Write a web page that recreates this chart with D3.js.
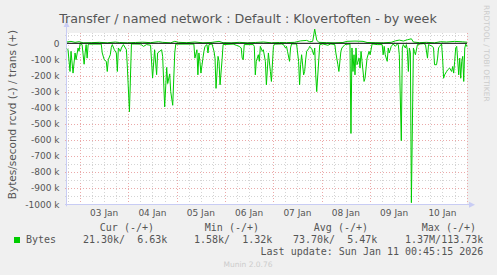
<!DOCTYPE html>
<html>
<head>
<meta charset="utf-8">
<script src="https://cdn.jsdelivr.net/npm/d3@7"></script>
<style>
  body { margin: 0; background: #f0f0f0; }
  text { font-family: "DejaVu Sans", sans-serif; }
  .mono { font-family: "DejaVu Sans Mono", monospace; white-space: pre; }
</style>
</head>
<body>
<svg id="chart" width="497" height="275"></svg>
<script>
// hours after the left edge of the graph, value in k bytes/s (rcvd is drawn negative)
var rcvd = [
  [0,-33],[0.5,-40],[1.5,-175],[2,-50],[3,-185],[4,-60],[4.5,-102],[5.5,-29],[6,-50],[6.5,-2],
  [7.5,-8],[8.5,-130],[9,-60],[9.5,-8],[10,-92],[10.5,-8],[11,-5],[17,-5],[17.5,-60],[18.5,-102],
  [19.5,-112],[20,-175],[20.5,-102],[21.5,-71],[22,-25],[22.5,-8],[23.5,-40],[24.5,-60],[25,-175],
  [25.5,-29],[26.5,-50],[27,-29],[28,-8],[29.5,-40],[30,-154],[31,-425],[32,-4],[36.5,-5],[38,-19],
  [39.5,-8],[41.5,-12],[42.5,-215],[43.5,-40],[44.5,-195],[45,-60],[46,-50],[47,-40],[47.5,-83],
  [48.5,-395],[49.5,-150],[50,-250],[51,-190],[51.5,-300],[52.5,-385],[53.5,-60],[54,-5],[63,-5],
  [63.5,-92],[64.5,-40],[65,-196],[65.5,-60],[66,-112],[66.5,-185],[67.5,-92],[68,-50],[68.5,-19],
  [69.5,-8],[70,-60],[70.5,-8],[72,-4],[73,-50],[73.5,-92],[74,-280],[75,-81],[75.5,-112],[76,-258],
  [77,-102],[77.5,-8],[82.5,-5],[84,-12],[85.5,-19],[86.5,-29],[87,-92],[87.5,-102],[88,-8],[92.5,-8],
  [93,-19],[93.5,-196],[94,-112],[95,-71],[95.5,-112],[96,-19],[97,-50],[97.5,-40],[98.5,-112],
  [99,-258],[100,-60],[101,-175],[101.5,-237],[102.5,-19],[103,-5],[106.5,-4],[107.5,-8],[108.5,-29],
  [109,-19],[109.5,-50],[110.5,-112],[111,-29],[111.5,-4],[114,-4],[115,-112],[115.5,-258],[116,-133],
  [116.5,-71],[117.5,-196],[118,-175],[118.5,-102],[119,-50],[120,-33],[120.5,-19],[121.5,-33],
  [122.5,-71],[123,-29],[123.5,-196],[124,-300],[125.5,-8],[127,-4],[129.5,-12],[131,-4],[133,-8],
  [133.5,-60],[134.5,-133],[135,-175],[136,-50],[136.5,-29],[138,-8],[140.5,-4],[141,-560],[141.5,-29],
  [142,-175],[142.5,-71],[143,-196],[143.5,-29],[144,-133],[145,-92],[145.5,-154],[146,-50],[146.5,-112],
  [147.5,-237],[148,-217],[149,-92],[150,-50],[150.5,-71],[151.5,-4],[154,-8],[156.5,-8],[157,-71],
  [157.5,-19],[158,-71],[159,-112],[159.5,-29],[160,-60],[161,-19],[162,-4],[163,-19],[164,-4],
  [164.5,-8],[165,-71],[166,-605],[166.5,-29],[167,-8],[168,-29],[168.5,-8],[169,-40],[169.5,-175],
  [170,-29],[170.5,-60],[171,-990],[172,-29],[172.5,-50],[173,-71],[174,-8],[175.5,-4],[177,-2],
  [178,-8],[179,-92],[179.5,-8],[181.5,-19],[182,-29],[182.5,-133],[183.5,-133],[184,-92],[184.5,-29],
  [185,-19],[186,-4],[186.5,-92],[187,-217],[187.5,-196],[188.5,-175],[189,-165],[190,-154],[191,-175],
  [191.5,-144],[192,-185],[192.5,-112],[193,-29],[193.5,-19],[194.5,-196],[195,-92],[195.5,-217],
  [196,-112],[196.5,-81],[197,-237],[197.5,-29],[198,-5],[198.6,-21]
];
var trans = [
  [0,8],[2,12],[4,6],[6,10],[8,3],[12,4],[16,6],[20,3],[24,8],[26,5],[30,3],[34,5],[37.5,7],[41.5,4],
  [45.5,10],[47.5,6],[51.5,3],[53.5,12],[55.5,6],[59.5,4],[63.5,8],[67.5,3],[71.5,5],[75.5,12],[77.5,4],
  [81.5,3],[85.5,6],[89.5,3],[93.5,5],[97.5,8],[101.5,3],[105.5,5],[109,4],[113,6],[116,15],[119,18],
  [120.5,10],[122,12],[123,88],[124,20],[125,6],[129,4],[133,3],[137,5],[139,12],[143,14],[147,12],
  [149,5],[153,4],[157,3],[161,6],[163,15],[165,20],[167,14],[169,22],[171,28],[172,8],[175,4],
  [178.5,6],[182.5,3],[185.5,10],[188.5,8],[192.5,12],[196.5,9],[198.6,7]
];
var yTicks = [0, -100, -200, -300, -400, -500, -600, -700, -800, -900, -1000];
var legendHead = ["Cur (-/+)", "Min (-/+)", "Avg (-/+)", "Max (-/+)"];
var legendVals = ["21.30k/  6.63k", "1.58k/  1.32k", "73.70k/  5.47k", "1.37M/113.73k"];
var seriesName = "Bytes";
var lastUpdate = "Last update: Sun Jan 11 00:45:15 2026";

var t0 = new Date(Date.UTC(2026, 0, 2, 17, 33));
var t1 = new Date(Date.UTC(2026, 0, 11, 0, 10));
function hoursToDate(h) { return new Date(t0.getTime() + h * 3600e3); }

var svg = d3.select("#chart");
var pL = 67, pR = 467, pT = 33, pB = 204.3;

var x = d3.scaleUtc().domain([t0, t1]).range([pL, pR]);
var y = d3.scaleLinear().domain([-1000, 64]).range([pB, pT]);

svg.append("rect").attr("width", 497).attr("height", 275).attr("fill", "#f0f0f0");
svg.append("rect").attr("x", pL).attr("y", pT).attr("width", pR - pL)
   .attr("height", pB - pT).attr("fill", "#ffffff");

// grid: minor every 6h / 50k, major at midnight / 100k
var minorT = x.ticks(d3.utcHour.every(6)).filter(function (d) { return d.getUTCHours() != 0; });
var majorT = x.ticks(d3.utcDay.every(1));
svg.selectAll(".vmin").data(minorT).enter().append("line")
   .attr("x1", function (d) { return Math.round(x(d)) + 0.5; })
   .attr("x2", function (d) { return Math.round(x(d)) + 0.5; })
   .attr("y1", pT).attr("y2", pB + 2)
   .attr("stroke", "#d4d4d4").attr("stroke-dasharray", "1,2");
svg.selectAll(".vmaj").data(majorT).enter().append("line")
   .attr("x1", function (d) { return Math.round(x(d)) + 0.5; })
   .attr("x2", function (d) { return Math.round(x(d)) + 0.5; })
   .attr("y1", pT).attr("y2", pB + 2)
   .attr("stroke", "#eba9a9").attr("stroke-dasharray", "1,2");

var hMinor = d3.range(-950, 64, 100);
svg.selectAll(".hmin").data(hMinor).enter().append("line")
   .attr("x1", pL - 2).attr("x2", pR)
   .attr("y1", function (d) { return Math.round(y(d)) + 0.5; })
   .attr("y2", function (d) { return Math.round(y(d)) + 0.5; })
   .attr("stroke", "#d4d4d4").attr("stroke-dasharray", "1,2");
svg.selectAll(".hmaj").data(yTicks.slice(1)).enter().append("line")
   .attr("x1", pL - 2).attr("x2", pR)
   .attr("y1", function (d) { return Math.round(y(d)) + 0.5; })
   .attr("y2", function (d) { return Math.round(y(d)) + 0.5; })
   .attr("stroke", "#eba9a9").attr("stroke-dasharray", "1,2");

// axes with little arrows like rrdtool
var axisCol = "#c8ccf4";
svg.append("line").attr("x1", pL - 0.5).attr("x2", pL - 0.5).attr("y1", pB + 2).attr("y2", 26)
   .attr("stroke", axisCol);
svg.append("path").attr("d", "M" + (pL - 3.5) + ",27 L" + (pL - 0.5) + ",21 L" + (pL + 2.5) + ",27 Z")
   .attr("fill", axisCol);
svg.append("line").attr("x1", pL - 2).attr("x2", pR + 3).attr("y1", Math.round(pB) + 0.5)
   .attr("y2", Math.round(pB) + 0.5).attr("stroke", axisCol);
svg.append("path").attr("d", "M" + (pR + 2) + "," + (pB - 2.5) + " L" + (pR + 8) + "," + (pB + 0.5) +
   " L" + (pR + 2) + "," + (pB + 3.5) + " Z").attr("fill", axisCol);

// data lines
var line = d3.line()
   .x(function (d) { return x(hoursToDate(d[0])); })
   .y(function (d) { return y(d[1]); });
svg.append("path").datum(rcvd).attr("d", line).attr("fill", "none")
   .attr("stroke", "#00cc00").attr("stroke-width", 1);
svg.append("path").datum(trans).attr("d", line).attr("fill", "none")
   .attr("stroke", "#00cc00").attr("stroke-width", 1);

svg.append("line").attr("x1", pL).attr("x2", pR)
   .attr("y1", y(0)).attr("y2", y(0)).attr("stroke", "#000").attr("stroke-width", 1);

// tick labels
var txt = "#555555";
svg.selectAll(".yl").data(yTicks).enter().append("text")
   .attr("x", 59.5).attr("y", function (d) { return y(d); }).attr("dy", "0.36em")
   .attr("text-anchor", "end").attr("font-size", "9px").attr("fill", txt)
   .text(function (d) { return d == 0 ? "0" : d + " k"; });

var noons = majorT.slice(0, -1).map(function (d) { return d3.utcHour.offset(d, 12); });
svg.selectAll(".xl").data(noons).enter().append("text")
   .attr("x", function (d) { return x(d); }).attr("y", 216)
   .attr("text-anchor", "middle").attr("font-size", "9px").attr("fill", txt)
   .text(d3.utcFormat("%d %b"));

svg.append("text").attr("x", 248).attr("y", 23.3).attr("text-anchor", "middle")
   .attr("font-size", "12.7px").attr("fill", txt)
   .text("Transfer / named network : Default : Klovertoften - by week");

svg.append("text").attr("transform", "translate(15.5,114.5) rotate(-90)")
   .attr("text-anchor", "middle").attr("font-size", "10.5px").attr("fill", txt)
   .text("Bytes/second rcvd (-) / trans (+)");

svg.append("text").attr("transform", "translate(484,5) rotate(90)")
   .attr("font-size", "7.5px").attr("fill", "#cccccc")
   .text("RRDTOOL / TOBI OETIKER");

// legend
var colEnd = [154, 259, 368, 476];
svg.selectAll(".lh").data(legendHead).enter().append("text").attr("class", "mono")
   .attr("x", function (d, i) { return colEnd[i]; }).attr("y", 230.8)
   .attr("text-anchor", "end").attr("font-size", "10px").attr("fill", txt)
   .text(function (d) { return d; });
var valEnd = [167.3, 272.3, 377.3, 483.3];
svg.selectAll(".lv").data(legendVals).enter().append("text").attr("class", "mono")
   .attr("x", function (d, i) { return valEnd[i]; }).attr("y", 243)
   .attr("text-anchor", "end").attr("font-size", "10px").attr("fill", txt)
   .text(function (d) { return d; });
svg.append("rect").attr("x", 14).attr("y", 237).attr("width", 6).attr("height", 6).attr("fill", "#00cc00");
svg.append("text").attr("class", "mono").attr("x", 26).attr("y", 243)
   .attr("font-size", "10px").attr("fill", txt).text(seriesName);
svg.append("text").attr("class", "mono").attr("x", 483.3).attr("y", 255)
   .attr("text-anchor", "end").attr("font-size", "10px").attr("fill", txt).text(lastUpdate);
svg.append("text").attr("x", 248).attr("y", 267).attr("text-anchor", "middle")
   .attr("font-size", "7.5px").attr("fill", "#cccccc").text("Munin 2.0.76");
</script>
</body>
</html>
